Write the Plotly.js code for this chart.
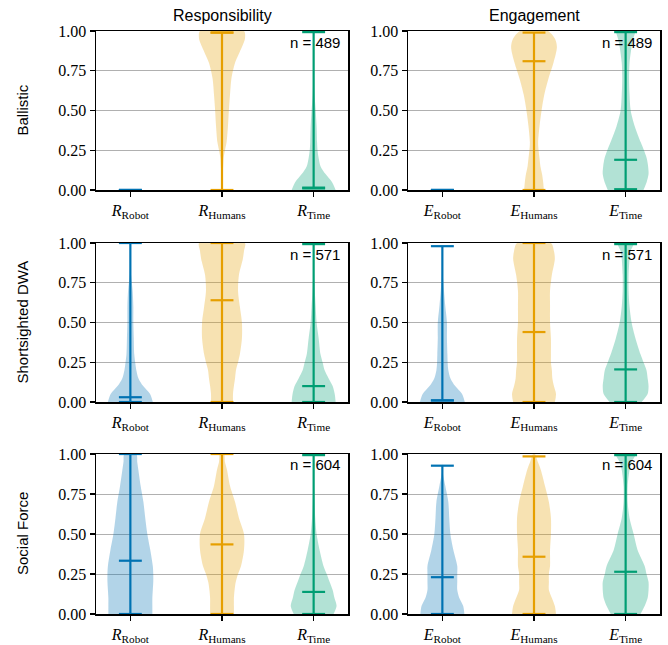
<!DOCTYPE html>
<html>
<head>
<meta charset="utf-8">
<script src="https://cdn.plot.ly/plotly-3.0.1.min.js"></script>
<style>html,body{margin:0;padding:0;background:#fff;}#chart{width:668px;height:645px;}</style>
</head>
<body>
<div id="chart"></div>
<script>
// ---------------- data ----------------
const rowNames = ["Ballistic", "Shortsighted DWA", "Social Force"];
const colNames = ["Responsibility", "Engagement"];
const sampleCounts = [489, 571, 604];
const tickLabelsR = ["<i>R</i><sub>Robot</sub>", "<i>R</i><sub>Humans</sub>", "<i>R</i><sub>Time</sub>"];
const tickLabelsE = ["<i>E</i><sub>Robot</sub>", "<i>E</i><sub>Humans</sub>", "<i>E</i><sub>Time</sub>"];
const seriesColors = ["#0072B2", "#E69F00", "#009E73"];
const fillColors = ["rgba(0,114,178,0.3)", "rgba(230,159,0,0.3)", "rgba(0,158,115,0.3)"];

// density levels (y values) at which violin half-widths were read
const levels = [0, 0.05, 0.1, 0.15, 0.2, 0.25, 0.3, 0.4, 0.5, 0.6, 0.7, 0.8, 0.9, 0.95, 1.0];

// relative half-widths (1 = widest) per panel, order: Robot, Humans, Time
const ballisticR = [
  [0,0,0,0,0,0,0,0,0,0,0,0,0,0,0],
  [0.02,0.02,0.03,0.05,0.07,0.13,0.2,0.26,0.3,0.35,0.41,0.57,0.87,1.0,0.96],
  [0.96,0.8,0.52,0.3,0.22,0.17,0.15,0.13,0.09,0.04,0.02,0.01,0.01,0.01,0.01]
];
const ballisticE = [
  [0,0,0,0,0,0,0,0,0,0,0,0,0,0,0],
  [0.43,0.4,0.35,0.28,0.24,0.2,0.18,0.24,0.33,0.45,0.63,0.85,1.0,0.92,0.6],
  [0.78,0.92,1.0,0.98,0.92,0.8,0.66,0.4,0.22,0.17,0.15,0.17,0.26,0.33,0.4]
];
const dwaR = [
  [0.98,0.86,0.56,0.35,0.26,0.21,0.17,0.15,0.13,0.13,0.1,0.03,0,0,0],
  [0.48,0.48,0.52,0.57,0.61,0.7,0.78,0.87,0.87,0.78,0.7,0.74,0.91,0.96,1.0],
  [0.96,0.92,0.83,0.65,0.48,0.39,0.3,0.22,0.13,0.09,0.05,0.02,0.01,0.01,0.01]
];
const dwaE = [
  [0.98,0.86,0.56,0.35,0.26,0.23,0.22,0.2,0.2,0.13,0.07,0.02,0,0,0],
  [0.91,0.96,0.87,0.8,0.78,0.74,0.74,0.74,0.7,0.7,0.7,0.78,0.91,0.87,0.74],
  [0.7,0.96,1.0,0.96,0.91,0.78,0.65,0.43,0.26,0.17,0.13,0.13,0.17,0.22,0.35]
];
const sfR = [
  [0.96,0.96,0.96,0.98,1.0,1.0,0.98,0.87,0.74,0.65,0.57,0.45,0.35,0.3,0.26],
  [0.52,0.52,0.52,0.55,0.6,0.7,0.83,0.96,0.96,0.74,0.57,0.35,0.22,0.13,0.09],
  [0.87,1.0,0.91,0.83,0.7,0.57,0.43,0.26,0.13,0.07,0.04,0.02,0.01,0.01,0.01]
];
const sfE = [
  [0.96,0.91,0.74,0.65,0.65,0.65,0.65,0.48,0.35,0.3,0.26,0.13,0,0,0],
  [0.96,0.91,0.78,0.65,0.65,0.65,0.7,0.7,0.74,0.74,0.65,0.48,0.3,0.17,0.04],
  [0.65,0.83,0.96,1.0,1.0,0.91,0.83,0.52,0.35,0.17,0.09,0.09,0.17,0.26,0.43]
];

// minimum, median, maximum of each distribution (Robot, Humans, Time)
const ballisticRMin = [0, 0, 0.01],   ballisticRMed = [0, 0.99, 0.015], ballisticRMax = [0, 0.99, 0.993];
const ballisticEMin = [0, 0, 0.005],  ballisticEMed = [0, 0.81, 0.19],  ballisticEMax = [0, 0.99, 0.993];
const dwaRMin = [0, 0, 0],            dwaRMed = [0.03, 0.64, 0.10],     dwaRMax = [1.0, 1.0, 0.993];
const dwaEMin = [0.01, 0, 0],         dwaEMed = [0.01, 0.44, 0.205],    dwaEMax = [0.98, 1.0, 0.993];
const sfRMin = [0, 0, 0],             sfRMed = [0.333, 0.435, 0.138],   sfRMax = [1.0, 1.0, 0.993];
const sfEMin = [0, 0, 0],             sfEMed = [0.23, 0.358, 0.264],    sfEMax = [0.927, 0.985, 0.993];

// ---------------- figure construction ----------------
const panels = [
  {w: ballisticR, mn: ballisticRMin, md: ballisticRMed, mx: ballisticRMax, ticks: tickLabelsR},
  {w: ballisticE, mn: ballisticEMin, md: ballisticEMed, mx: ballisticEMax, ticks: tickLabelsE},
  {w: dwaR, mn: dwaRMin, md: dwaRMed, mx: dwaRMax, ticks: tickLabelsR},
  {w: dwaE, mn: dwaEMin, md: dwaEMed, mx: dwaEMax, ticks: tickLabelsE},
  {w: sfR, mn: sfRMin, md: sfRMed, mx: sfRMax, ticks: tickLabelsR},
  {w: sfE, mn: sfEMin, md: sfEMed, mx: sfEMax, ticks: tickLabelsE}
];

const W = 668, H = 645;
const colPx = [[96, 348], [408, 660]];
const rowPx = [[31, 190], [243, 402], [454, 614]];
const positions = [1, 2, 3];
const halfWidth = 0.25, capHalf = 0.125;

const serif = "Liberation Serif, Times New Roman, serif";
const sans = "Liberation Sans, Arial, sans-serif";

const traces = [];
const layout = {
  width: W, height: H,
  margin: {l: 0, r: 0, t: 0, b: 0},
  paper_bgcolor: "#fff", plot_bgcolor: "#fff",
  showlegend: false,
  annotations: []
};

panels.forEach((p, i) => {
  const r = Math.floor(i / 2), c = i % 2;
  const suf = i === 0 ? "" : String(i + 1);
  const xa = "x" + suf, ya = "y" + suf;
  const xd = [colPx[c][0] / W, colPx[c][1] / W];
  const yd = [1 - rowPx[r][1] / H, 1 - rowPx[r][0] / H];
  layout["xaxis" + suf] = {
    domain: xd, anchor: ya, range: [0.625, 3.375],
    tickvals: positions, ticktext: p.ticks,
    showgrid: false, zeroline: false,
    showline: true, mirror: true, linecolor: "#000", linewidth: 1.5,
    ticks: "outside", ticklen: 5, tickwidth: 1.2, tickcolor: "#000",
    tickfont: {family: serif, size: 16, color: "#000"},
    fixedrange: true
  };
  layout["yaxis" + suf] = {
    domain: yd, anchor: xa, range: [0, 1],
    tickvals: [0, 0.25, 0.5, 0.75, 1.0], tickformat: ".2f",
    showgrid: true, gridcolor: "#b0b0b0", gridwidth: 1,
    zeroline: false,
    showline: true, mirror: true, linecolor: "#000", linewidth: 1.5,
    ticks: "outside", ticklen: 5, tickwidth: 1.2, tickcolor: "#000",
    tickfont: {family: serif, size: 16, color: "#000"},
    fixedrange: true
  };

  positions.forEach((pos, k) => {
    const w = p.w[k];
    if (w.some(v => v > 0)) {
      const xs = [], ys = [];
      levels.forEach((lv, j) => { xs.push(pos + w[j] * halfWidth); ys.push(lv); });
      for (let j = levels.length - 1; j >= 0; j--) { xs.push(pos - w[j] * halfWidth); ys.push(levels[j]); }
      traces.push({
        type: "scatter", mode: "lines", xaxis: xa, yaxis: ya,
        x: xs, y: ys, fill: "toself", fillcolor: fillColors[k],
        line: {width: 0, shape: "spline", smoothing: 0.8, color: fillColors[k]},
        hoverinfo: "skip"
      });
    }
    const mn = p.mn[k], md = p.md[k], mx = p.mx[k];
    traces.push({
      type: "scatter", mode: "lines", xaxis: xa, yaxis: ya,
      x: [pos, pos, null, pos - capHalf, pos + capHalf, null, pos - capHalf, pos + capHalf, null, pos - capHalf, pos + capHalf],
      y: [mn, mx, null, mn, mn, null, mx, mx, null, md, md],
      line: {color: seriesColors[k], width: 2.2},
      connectgaps: false, hoverinfo: "skip"
    });
  });

  // sample count label
  layout.annotations.push({
    xref: "paper", yref: "paper",
    x: colPx[c][1] / W, y: 1 - (rowPx[r][0] + 11) / H,
    xanchor: "right", yanchor: "middle", xshift: -6,
    text: "n = " + sampleCounts[r], showarrow: false,
    font: {family: sans, size: 15, color: "#000"}
  });
});

// column titles
colNames.forEach((t, c) => {
  layout.annotations.push({
    xref: "paper", yref: "paper",
    x: (colPx[c][0] + colPx[c][1]) / 2 / W, y: 1 - 15 / H,
    xanchor: "center", yanchor: "middle",
    text: t, showarrow: false,
    font: {family: sans, size: 16, color: "#000"}
  });
});
// row labels
rowNames.forEach((t, r) => {
  layout.annotations.push({
    xref: "paper", yref: "paper",
    x: 22 / W, y: 1 - (rowPx[r][0] + rowPx[r][1]) / 2 / H,
    xanchor: "center", yanchor: "middle", textangle: -90,
    text: t, showarrow: false,
    font: {family: sans, size: 15, color: "#000"}
  });
});

Plotly.newPlot("chart", traces, layout, {staticPlot: true, displayModeBar: false});
</script>
</body>
</html>
